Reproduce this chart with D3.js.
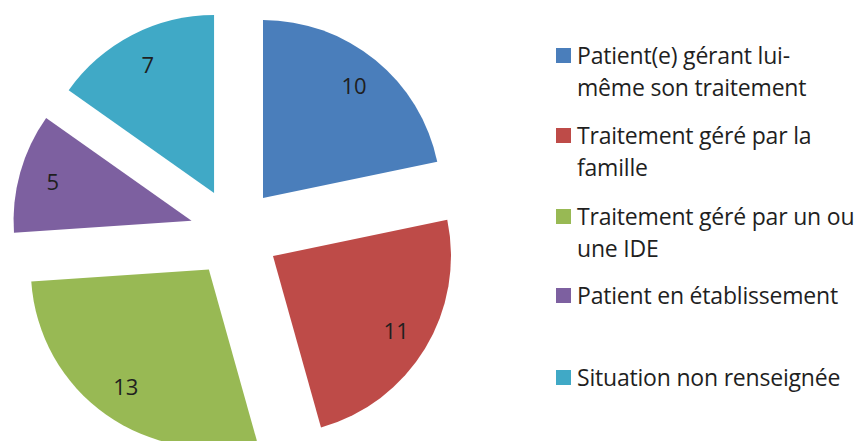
<!DOCTYPE html>
<html>
<head>
<meta charset="utf-8">
<script src="https://cdn.jsdelivr.net/npm/d3@7"></script>
<style>
  body { margin: 0; background: #fff; }
  text { font-family: "Open Sans", "Liberation Sans", sans-serif; fill: #1f1f1f; }
</style>
</head>
<body>
<div id="chart"></div>
<script>
(function(){
  'use strict';

  // data
  var categories = [
    ['Patient(e) gérant lui-', 'même son traitement'],
    ['Traitement géré par la', 'famille'],
    ['Traitement géré par un ou', 'une IDE'],
    ['Patient en établissement'],
    ['Situation non renseignée']
  ];
  var values = [10, 11, 13, 5, 7];
  var colors = ['#4a7ebb', '#be4b48', '#98b954', '#7d60a0', '#40a9c6'];
  var legendY = [55.5, 135.5, 216.5, 295.5, 377.5];

  var w = 864, h = 441,
      cx = 234.7, cy = 232.8,
      R = 178, explode = 44.8;

  var svg = d3.select('#chart').append('svg')
    .attr('width', w)
    .attr('height', h);

  var pie = d3.pie().sort(null).value(function(d){ return d; });
  var arcs = pie(values);

  var arc = d3.arc().innerRadius(0).outerRadius(R);
  var labelArc = d3.arc().innerRadius(R * 0.81).outerRadius(R * 0.81);

  function offset(d) {
    var a = (d.startAngle + d.endAngle) / 2;
    return [Math.sin(a) * explode, -Math.cos(a) * explode];
  }

  var g = svg.append('g')
    .attr('transform', 'translate(' + cx + ',' + cy + ')');

  var slices = g.selectAll('.slice')
    .data(arcs)
    .enter()
    .append('g')
    .attr('class', 'slice')
    .attr('transform', function(d) {
      var o = offset(d);
      return 'translate(' + o[0] + ',' + o[1] + ')';
    });

  slices.append('path')
    .attr('d', arc)
    .style('fill', function(d, i) { return colors[i]; });

  slices.append('text')
    .attr('transform', function(d) { return 'translate(' + labelArc.centroid(d) + ')'; })
    .attr('text-anchor', 'middle')
    .attr('dy', '0.35em')
    .style('font-size', '22px')
    .text(function(d) { return d.data; });

  // legend
  var legend = svg.selectAll('.legend')
    .data(categories)
    .enter()
    .append('g')
    .attr('class', 'legend')
    .attr('transform', function(d, i) { return 'translate(556,' + legendY[i] + ')'; });

  legend.append('rect')
    .attr('x', 0)
    .attr('y', -7.5)
    .attr('width', 15)
    .attr('height', 15)
    .style('fill', function(d, i) { return colors[i]; });

  legend.append('text')
    .attr('x', 21)
    .attr('y', 8)
    .style('font-size', '23px')
    .style('letter-spacing', '-0.2px')
    .selectAll('tspan')
    .data(function(d) { return d; })
    .enter()
    .append('tspan')
    .attr('x', 21)
    .attr('dy', function(d, i) { return i === 0 ? 0 : 32.5; })
    .text(function(d) { return d; });

}());
</script>
</body>
</html>
